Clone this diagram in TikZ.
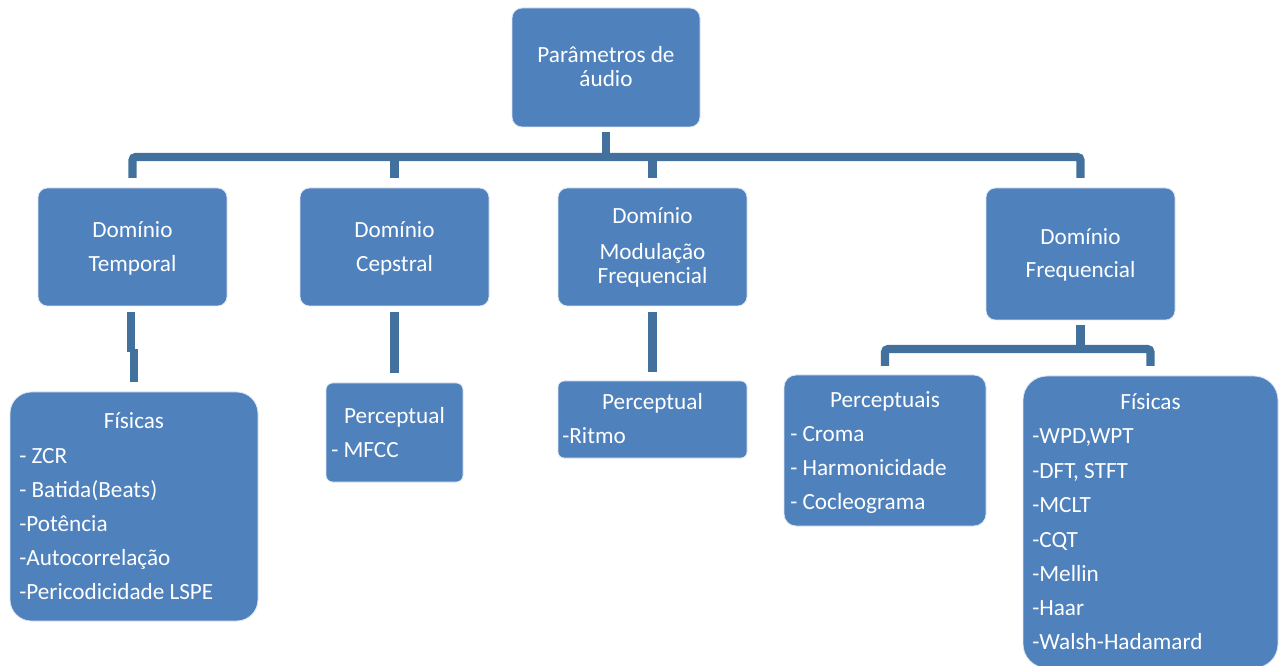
\documentclass[tikz,border=0pt]{standalone}
\usepackage{fontspec}
\setmainfont{Carlito}
\usetikzlibrary{calc}
\definecolor{boxblue}{HTML}{4F81BD}
\definecolor{linkblue}{HTML}{41719C}
\begin{document}
\begin{tikzpicture}[x=0.75pt,y=-0.75pt,
  box/.style={rectangle, fill=boxblue, draw=white!80!boxblue, line width=0.6pt, inner sep=0pt, outer sep=0pt},
  conn/.style={draw=linkblue, line width=6.2pt},
  txt/.style={text=white, font=\fontsize{17.4}{20}\selectfont, inner sep=0pt, anchor=base},
  ltxt/.style={txt, anchor=base west}]
\useasboundingbox (0,0) rectangle (1285,666);

% boxes
\node[box, minimum width={188*0.75pt}, minimum height={119*0.75pt}, rounded corners=7.5pt] (root) at (606,67.5) {};
\node[box, minimum width={189*0.75pt}, minimum height={118*0.75pt}, rounded corners=7pt] (temporal) at (132.5,247) {};
\node[box, minimum width={189*0.75pt}, minimum height={118*0.75pt}, rounded corners=7pt] (cep) at (394.5,247) {};
\node[box, minimum width={189*0.75pt}, minimum height={118*0.75pt}, rounded corners=7pt] (mod) at (652.5,247) {};
\node[box, minimum width={189*0.75pt}, minimum height={132*0.75pt}, rounded corners=7pt] (freq) at (1080.5,254) {};
\node[box, minimum width={248*0.75pt}, minimum height={229*0.75pt}, rounded corners=16pt] (fisL) at (134,506.5) {};
\node[box, minimum width={137*0.75pt}, minimum height={99*0.75pt}, rounded corners=5pt] (percC) at (394.5,432.5) {};
\node[box, minimum width={189*0.75pt}, minimum height={77*0.75pt}, rounded corners=4.5pt] (percM) at (652.5,419.5) {};
\node[box, minimum width={202*0.75pt}, minimum height={151*0.75pt}, rounded corners=9pt] (percF) at (885,450.5) {};
\node[box, minimum width={255*0.75pt}, minimum height={292*0.75pt}, rounded corners=18pt] (fisR) at (1150.5,522) {};

% connectors
\draw[conn] ($(root.south)+(0,5)$) -- ($(root.south)+(0,30)$);
\draw[conn, rounded corners=2.5pt] ($(temporal.north)+(0,-10)$) -- ($(temporal.north)+(0,-31)$) -- ($(freq.north)+(0,-31)$) -- ($(freq.north)+(0,-10)$);
\draw[conn] ($(cep.north)+(0,-10)$) -- ($(cep.north)+(0,-31)$);
\draw[conn] ($(mod.north)+(0,-10)$) -- ($(mod.north)+(0,-31)$);
\draw[conn] ($(temporal.south)+(-1.5,6)$) -- ($(temporal.south)+(-1.5,46)$);
\draw[conn] ($(fisL.north)+(0,-10)$) -- ($(fisL.north)+(0,-43)$);
\draw[conn] ($(cep.south)+(0,6)$) -- ($(percC.north)+(0,-10)$);
\draw[conn] ($(mod.south)+(0,6)$) -- ($(percM.north)+(0,-9)$);
\draw[conn] ($(freq.south)+(0,5)$) -- ($(freq.south)+(0,29)$);
\draw[conn, rounded corners=2.5pt] ($(percF.north)+(0,-9)$) -- ($(percF.north)+(0,-26)$) -- ($(fisR.north)+(0,-27)$) -- ($(fisR.north)+(0,-10)$);

% texts
\node[txt] (r1) at (606,62.5) {Parâmetros de};
\node[txt] (r2) at (606,86.5) {áudio};
\node[txt] (t1) at (132.5,238) {Domínio};
\node[txt] (t2) at (132.5,272) {Temporal};
\node[txt] (c1) at (394.5,238) {Domínio};
\node[txt] (c2) at (394.5,272) {Cepstral};
\node[txt] (m1) at (652.5,224) {Domínio};
\node[txt] (m2) at (652.5,260) {Modulação};
\node[txt] (m3) at (652.5,284) {Frequencial};
\node[txt] (f1) at (1080.5,245) {Domínio};
\node[txt] (f2) at (1080.5,278) {Frequencial};

\node[txt] (fl0) at (134,429) {Físicas};
\node[ltxt] (fl1) at (19,463) {- ZCR};
\node[ltxt] (fl2) at (19,497) {- Batida(Beats)};
\node[ltxt] (fl3) at (19,531) {-Potência};
\node[ltxt] (fl4) at (19,565) {-Autocorrelação};
\node[ltxt] (fl5) at (19,599) {-Pericodicidade LSPE};

\node[txt] (pc0) at (394.5,423) {Perceptual};
\node[ltxt] (pc1) at (331,457) {- MFCC};

\node[txt] (pm0) at (652.5,410) {Perceptual};
\node[ltxt] (pm1) at (562,444) {-Ritmo};

\node[txt] (pf0) at (885,407) {Perceptuais};
\node[ltxt] (pf1) at (790,441) {- Croma};
\node[ltxt] (pf2) at (790,475) {- Harmonicidade};
\node[ltxt] (pf3) at (790,509) {- Cocleograma};

\node[txt] (fr0) at (1150.5,410) {Físicas};
\node[ltxt] (fr1) at (1032,444) {-WPD,WPT};
\node[ltxt] (fr2) at (1032,478) {-DFT, STFT};
\node[ltxt] (fr3) at (1032,512) {-MCLT};
\node[ltxt] (fr4) at (1032,547) {-CQT};
\node[ltxt] (fr5) at (1032,581) {-Mellin};
\node[ltxt] (fr6) at (1032,615) {-Haar};
\node[ltxt] (fr7) at (1032,649) {-Walsh-Hadamard};
\end{tikzpicture}
\end{document}
